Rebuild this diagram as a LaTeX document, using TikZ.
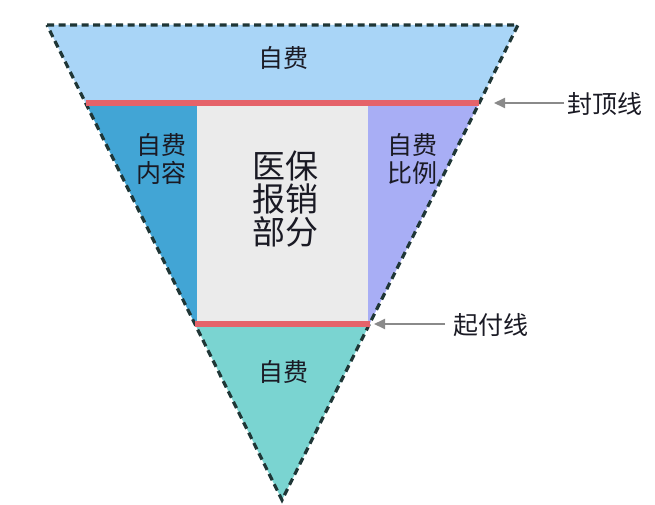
\documentclass[tikz,border=0pt]{standalone}
\usepackage{fontspec}
\newfontfamily\cjk{Noto Sans CJK SC}
\usetikzlibrary{arrows.meta}
\definecolor{topblue}{HTML}{A9D5F7}
\definecolor{leftblue}{HTML}{42A5D5}
\definecolor{midgray}{HTML}{EBEBEB}
\definecolor{lavender}{HTML}{A8AEF5}
\definecolor{teal}{HTML}{7AD4D1}
\definecolor{redline}{HTML}{E5636A}
\definecolor{border}{HTML}{1F3636}
\definecolor{arrowgray}{HTML}{8A8A8A}
\definecolor{txt}{HTML}{1A1A24}
\tikzset{
  lbl/.style={font=\cjk\fontsize{25}{28}\selectfont, text=txt, align=center, inner sep=0pt},
  biglbl/.style={font=\cjk\fontsize{33}{33}\selectfont, text=txt, align=center, inner sep=0pt},
  side/.style={font=\cjk\fontsize{25}{28}\selectfont, text=txt, anchor=west, inner sep=0pt},
  limit/.style={draw=redline, line width=6.5pt},
  pointer/.style={draw=arrowgray, line width=2pt, -{Triangle[length=11pt,width=10pt]}},
}
\begin{document}
\begin{tikzpicture}[x=1pt,y=-1pt]
\useasboundingbox (0,0) rectangle (655,505);
% geometry
\coordinate (TL) at (47,25);
\coordinate (TR) at (518,25);
\coordinate (A) at (282,500);
\coordinate (L1) at (85.6,103);
\coordinate (R1) at (479.2,103);
\coordinate (L2) at (195,324);
\coordinate (R2) at (369.5,324);
% fills
\fill[topblue] (TL) -- (TR) -- (R1) -- (L1) -- cycle;
\fill[leftblue] (L1) -- (197,103) -- (197,324) -- (L2) -- cycle;
\fill[midgray] (197,103) rectangle (368,324);
\fill[lavender] (368,103) -- (R1) -- (R2) -- (368,324) -- cycle;
\fill[teal] (L2) -- (R2) -- (A) -- cycle;
% border
\draw[border, line width=3.2pt, dash pattern=on 7pt off 4.5pt] (TL) -- (TR) -- (A) -- cycle;
% limit lines
\draw[limit] (L1) -- (R1);
\draw[limit] (L2) -- (R2);
% texts
\node[lbl] (t1) at (283,58) {自费};
\node[lbl] (t2) at (161,159) {自费\\内容};
\node[biglbl] (t3) at (285,199) {医保\\报销\\部分};
\node[lbl] (t4) at (412,159) {自费\\比例};
\node[lbl] (t5) at (283,372) {自费};
\node[side] (cap) at (567,104) {封顶线};
\node[side] (start) at (453,325) {起付线};
\coordinate (capend) at (494,103);
\coordinate (startend) at (374,324);
\draw[pointer] (cap.west) ++(-3,-1) -- (capend);
\draw[pointer] (start.west) ++(-8,-1) -- (startend);
\end{tikzpicture}
\end{document}
